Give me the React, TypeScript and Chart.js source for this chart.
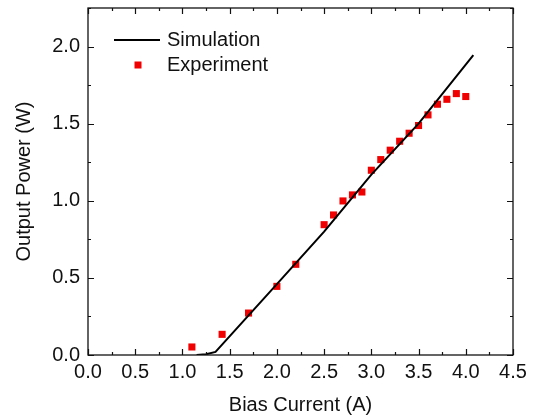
import React, { useEffect, useRef } from "react";
import { Chart, registerables } from "chart.js";

Chart.register(...registerables);

const expCurrent = [1.1, 1.42, 1.7, 2.0, 2.2, 2.5, 2.6, 2.7, 2.8, 2.9, 3.0, 3.1, 3.2, 3.3, 3.4, 3.5, 3.6, 3.7, 3.8, 3.9, 4.0];
const expPower = [0.052, 0.134, 0.272, 0.445, 0.588, 0.845, 0.908, 0.999, 1.038, 1.057, 1.198, 1.267, 1.328, 1.386, 1.438, 1.488, 1.557, 1.626, 1.658, 1.695, 1.676];

const simCurrent = [1.15, 1.25, 1.35, 2.0, 2.5, 3.0, 3.5, 4.08];
const simPower = [0.0, 0.005, 0.02, 0.46, 0.8, 1.17, 1.5, 1.945];

const xTicks = [0, 0.5, 1.0, 1.5, 2.0, 2.5, 3.0, 3.5, 4.0, 4.5];
const yTicks = [0, 0.5, 1.0, 1.5, 2.0];
const xMinor = [0.25, 0.75, 1.25, 1.75, 2.25, 2.75, 3.25, 3.75, 4.25];
const yMinor = [0.25, 0.75, 1.25, 1.75, 2.25];

const seriesNames = ["Simulation", "Experiment"];
const xTitle = "Bias Current (A)";
const yTitle = "Output Power (W)";

const FONT = "'Liberation Sans', Arial, Helvetica, sans-serif";
const TEXT = "#111";
const RED = "#f00000";

const framePlugin = {
  id: "frameTicks",
  afterDraw(chart: any) {
    const { ctx, chartArea } = chart;
    const xs = chart.scales.x;
    const ys = chart.scales.y;
    const { left, right, top, bottom } = chartArea;
    ctx.save();
    ctx.strokeStyle = "#111";
    ctx.lineWidth = 1.3;
    ctx.strokeRect(left, top, right - left, bottom - top);
    ctx.lineWidth = 1.2;
    ctx.beginPath();
    const tx = (v: number, len: number) => {
      const p = Math.round(xs.getPixelForValue(v)) + 0.5;
      ctx.moveTo(p, bottom);
      ctx.lineTo(p, bottom - len);
      ctx.moveTo(p, top);
      ctx.lineTo(p, top + len);
    };
    const ty = (v: number, len: number) => {
      const p = Math.round(ys.getPixelForValue(v)) + 0.5;
      ctx.moveTo(left, p);
      ctx.lineTo(left + len, p);
      ctx.moveTo(right, p);
      ctx.lineTo(right - len, p);
    };
    xTicks.forEach((v) => tx(v, 6));
    xMinor.forEach((v) => tx(v, 3));
    yTicks.forEach((v) => ty(v, 6));
    yMinor.forEach((v) => ty(v, 3));
    ctx.stroke();

    // legend
    ctx.font = `20px ${FONT}`;
    ctx.fillStyle = TEXT;
    ctx.textBaseline = "middle";
    ctx.textAlign = "left";
    ctx.strokeStyle = "#000";
    ctx.lineWidth = 2;
    ctx.beginPath();
    ctx.moveTo(114, 40);
    ctx.lineTo(160, 40);
    ctx.stroke();
    ctx.fillText(seriesNames[0], 167, 40);
    ctx.fillStyle = RED;
    ctx.fillRect(134.5, 61.5, 7, 7);
    ctx.fillStyle = TEXT;
    ctx.fillText(seriesNames[1], 167, 65);
    ctx.restore();
  },
};

export default function App() {
  const ref = useRef<HTMLCanvasElement>(null);
  useEffect(() => {
    if (!ref.current) return;
    const chart = new Chart(ref.current, {
      type: "scatter",
      data: {
        datasets: [
          {
            label: seriesNames[0],
            type: "line",
            data: simCurrent.map((x, i) => ({ x, y: simPower[i] })),
            borderColor: "#000",
            borderWidth: 2,
            pointRadius: 0,
            fill: false,
            tension: 0,
          } as any,
          {
            label: seriesNames[1],
            data: expCurrent.map((x, i) => ({ x, y: expPower[i] })),
            pointStyle: "rect",
            pointRadius: 5,
            backgroundColor: RED,
            borderColor: RED,
            borderWidth: 0,
          },
        ],
      },
      options: {
        animation: false,
        responsive: false,
        maintainAspectRatio: false,
        layout: { padding: { left: 0, right: 24, top: 8, bottom: 0 } },
        plugins: { legend: { display: false }, tooltip: { enabled: false } },
        scales: {
          x: {
            type: "linear",
            min: 0,
            max: 4.5,
            grid: { display: false, drawTicks: false },
            border: { display: false },
            afterBuildTicks: (s: any) => {
              s.ticks = xTicks.map((v) => ({ value: v }));
            },
            afterFit: (s: any) => {
              s.height = 62;
              s.paddingLeft = 0;
              s.paddingRight = 0;
            },
            ticks: {
              autoSkip: false,
              maxRotation: 0,
              padding: 5,
              color: TEXT,
              font: { family: FONT, size: 20 },
              callback: (v: any) => Number(v).toFixed(1),
            },
            title: {
              display: true,
              text: xTitle,
              color: TEXT,
              font: { family: FONT, size: 20 },
              padding: { top: 0, bottom: 0 },
            },
          },
          y: {
            type: "linear",
            min: 0,
            max: 2.25,
            grid: { display: false, drawTicks: false },
            border: { display: false },
            afterBuildTicks: (s: any) => {
              s.ticks = yTicks.map((v) => ({ value: v }));
            },
            afterFit: (s: any) => {
              s.width = 88;
              s.paddingTop = 0;
              s.paddingBottom = 0;
            },
            ticks: {
              autoSkip: false,
              padding: 8,
              color: TEXT,
              font: { family: FONT, size: 20 },
              callback: (v: any) => Number(v).toFixed(1),
            },
            title: {
              display: true,
              text: yTitle,
              color: TEXT,
              font: { family: FONT, size: 20 },
              padding: { top: 12, bottom: 0 },
            },
          },
        },
      },
      plugins: [framePlugin],
    });
    return () => chart.destroy();
  }, []);
  return (
    <div style={{ position: "fixed", left: 0, top: 0, width: 537, height: 417, background: "#fff" }}>
      <canvas ref={ref} width={537} height={417} style={{ width: 537, height: 417 }} />
    </div>
  );
}
